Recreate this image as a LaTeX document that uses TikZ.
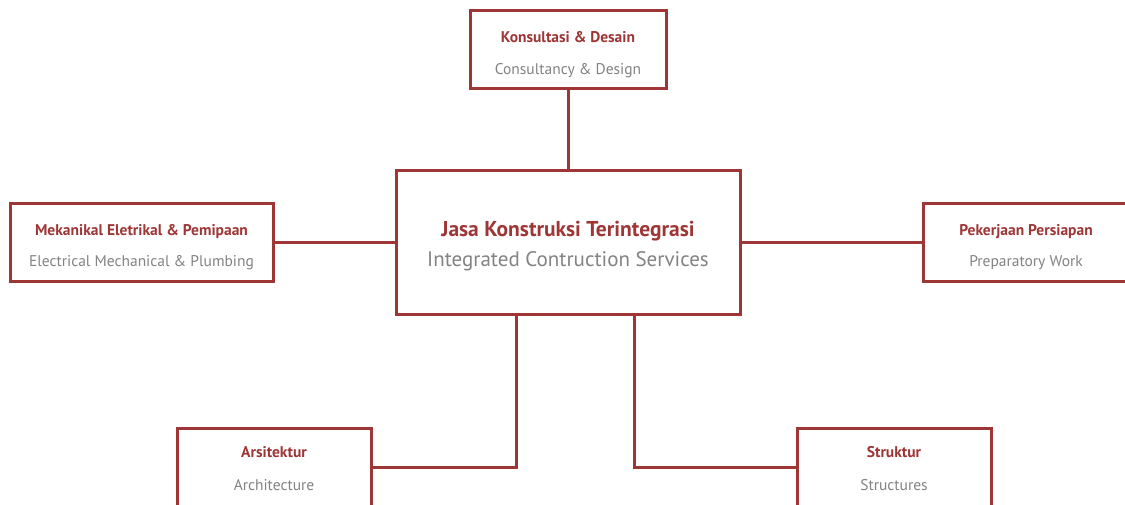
\documentclass[tikz,border=0pt]{standalone}
\usepackage{fontspec}
\setmainfont{PT Sans}
\definecolor{brick}{HTML}{9E3636}
\definecolor{greytext}{HTML}{838383}
\begin{document}
\begin{tikzpicture}[x=1pt, y=-1pt,
    box/.style={draw=brick, fill=white, line width=3pt, minimum height=78pt, inner sep=0pt},
    wire/.style={draw=brick, line width=3pt},
    head/.style={anchor=base, inner sep=0pt, text=brick, font=\fontsize{15.5}{17}\selectfont\bfseries},
    sub/.style={anchor=base, inner sep=0pt, text=greytext, font=\fontsize{15.5}{17}\selectfont}]
    \clip (0,0) rectangle (1125,505);
    \fill [white] (0,0) rectangle (1125,505);
    \node [box, minimum width=344pt, minimum height=144pt] (main) at (568,242.5) {};
    \node [box, minimum width=196pt] (consult) at (568,50) {};
    \node [box, minimum width=263pt] (mep) at (141.5,242.5) {};
    \node [box, minimum width=206pt] (prep) at (1026,242.5) {};
    \node [box, minimum width=194pt] (arch) at (274,467) {};
    \node [box, minimum width=194pt] (struct) at (894,467) {};
    \node [head, font=\fontsize{21.5}{24}\selectfont\bfseries] (main-h) at ([yshift=6pt]main.center) {Jasa Konstruksi Terintegrasi};
    \node [sub, font=\fontsize{21}{24}\selectfont] (main-s) at ([yshift=-24pt]main.center) {Integrated Contruction Services};
    \node [head] (consult-h) at ([yshift=7pt]consult.center) {Konsultasi \& Desain};
    \node [sub] (consult-s) at ([yshift=-25pt]consult.center) {Consultancy \& Design};
    \node [head] (mep-h) at ([yshift=7pt]mep.center) {Mekanikal Eletrikal \& Pemipaan};
    \node [sub] (mep-s) at ([yshift=-24pt]mep.center) {Electrical Mechanical \& Plumbing};
    \node [head] (prep-h) at ([yshift=7pt]prep.center) {Pekerjaan Persiapan};
    \node [sub] (prep-s) at ([yshift=-24pt]prep.center) {Preparatory Work};
    \node [head] (arch-h) at ([yshift=10pt]arch.center) {Arsitektur};
    \node [sub] (arch-s) at ([yshift=-23pt]arch.center) {Architecture};
    \node [head] (struct-h) at ([yshift=10pt]struct.center) {Struktur};
    \node [sub] (struct-s) at ([yshift=-23pt]struct.center) {Structures};
    \draw [wire] (consult) -- (main);
    \draw [wire] (main) -- (mep);
    \draw [wire] (main) -- (prep);
    \draw [wire] ([xshift=-52pt]main.south) |- (arch.east);
    \draw [wire] ([xshift=66pt]main.south) |- (struct.west);
\end{tikzpicture}
\end{document}
